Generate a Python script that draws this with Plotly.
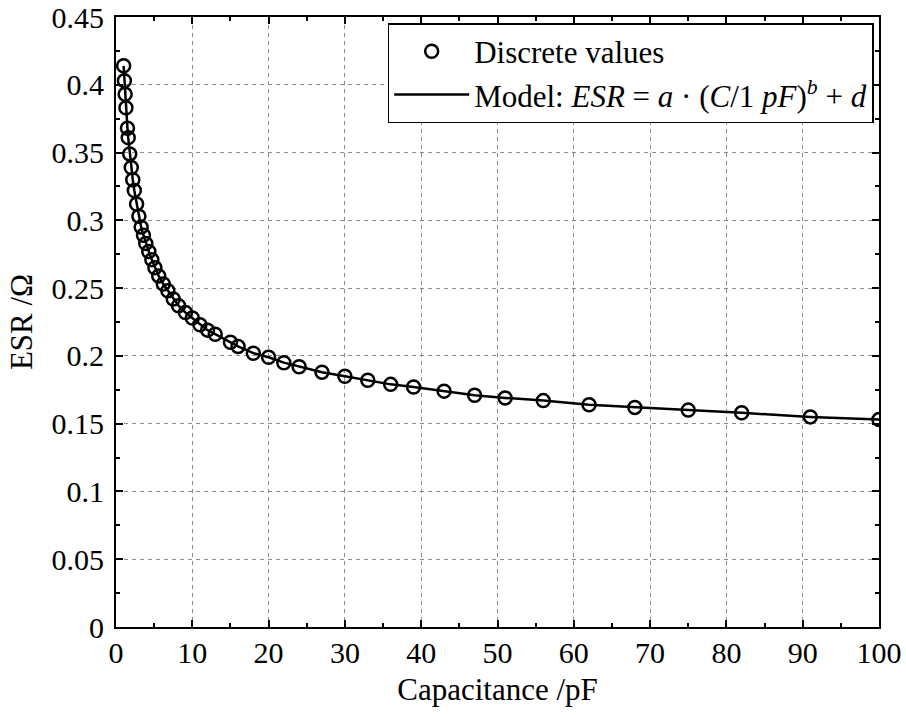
import plotly.graph_objects as go

# Capacitance values (E24 series, pF)
capacitance = [1, 1.1, 1.2, 1.3, 1.5, 1.6, 1.8, 2.0, 2.2, 2.4, 2.7, 3.0, 3.3, 3.6, 3.9,
               4.3, 4.7, 5.1, 5.6, 6.2, 6.8, 7.5, 8.2, 9.1, 10, 11, 12, 13, 15, 16,
               18, 20, 22, 24, 27, 30, 33, 36, 39, 43, 47, 51, 56, 62, 68, 75, 82, 91, 100]
# Discrete ESR values (Ohm)
esr = [0.414, 0.403, 0.393, 0.383, 0.368, 0.361, 0.349, 0.339, 0.330, 0.322, 0.312,
       0.303, 0.295, 0.289, 0.283, 0.277, 0.271, 0.265, 0.259, 0.253, 0.248, 0.242,
       0.237, 0.232, 0.228, 0.223, 0.219, 0.216, 0.210, 0.207, 0.202, 0.199, 0.195,
       0.192, 0.188, 0.185, 0.182, 0.179, 0.177, 0.174, 0.171, 0.169, 0.167, 0.164,
       0.162, 0.160, 0.158, 0.155, 0.153]
# Model curve (same sampling as the discrete values)
model_c = capacitance
model_esr = esr

x_ticks = [0, 10, 20, 30, 40, 50, 60, 70, 80, 90, 100]
y_ticks = [0, 0.05, 0.1, 0.15, 0.2, 0.25, 0.3, 0.35, 0.4, 0.45]
y_tick_text = ["0", "0.05", "0.1", "0.15", "0.2", "0.25", "0.3", "0.35", "0.4", "0.45"]

FONT = "Liberation Serif, Times New Roman, serif"

fig = go.Figure()
fig.add_trace(go.Scatter(
    x=capacitance, y=esr, mode="markers", name="Discrete values",
    marker=dict(symbol="circle-open", size=13, color="black", line=dict(width=2.5, color="black")),
))
fig.add_trace(go.Scatter(
    x=model_c, y=model_esr, mode="lines",
    name="Model: <i>ESR</i> = <i>a</i> · (<i>C</i>/1 <i>pF</i>)<sup><i>b</i></sup> + <i>d</i>",
    line=dict(color="black", width=2.5),
))

axis_common = dict(
    showline=True, linecolor="black", linewidth=2, mirror="allticks",
    ticks="inside", ticklen=7, tickwidth=1.5, tickcolor="black",
    showgrid=True, gridcolor="#8c8c8c", gridwidth=1, griddash="4px,4px",
    zeroline=False, ticklabeloverflow="allow", automargin=False,
    tickfont=dict(family=FONT, size=30, color="black"),
)

fig.update_xaxes(
    range=[0, 100], tickvals=x_ticks, ticktext=[str(v) for v in x_ticks],
    ticklabelstandoff=-2,
    title=dict(text="Capacitance /pF", font=dict(family=FONT, size=31, color="black"), standoff=10),
    minor=dict(ticks="inside", ticklen=4, tickwidth=1.5, tickcolor="black", dtick=5, showgrid=False),
    **axis_common,
)
fig.update_yaxes(
    range=[0, 0.45], tickvals=y_ticks, ticktext=y_tick_text,
    ticklabelstandoff=4,
    title=dict(text="ESR /Ω", font=dict(family=FONT, size=31, color="black"), standoff=10),
    minor=dict(ticks="inside", ticklen=4, tickwidth=1.5, tickcolor="black", dtick=0.025, showgrid=False),
    **axis_common,
)

fig.update_layout(
    width=906, height=715,
    margin=dict(l=116, r=27, t=17, b=88, autoexpand=False),
    paper_bgcolor="white", plot_bgcolor="white",
    font=dict(family=FONT, size=30, color="black"),
    showlegend=True,
    legend=dict(
        x=0.993, y=0.99, xanchor="right", yanchor="top",
        bgcolor="white", bordercolor="black", borderwidth=1.5,
        font=dict(family=FONT, size=31, color="black"),
        itemwidth=75, tracegroupgap=0,
    ),
)

fig.write_html("out.html")
